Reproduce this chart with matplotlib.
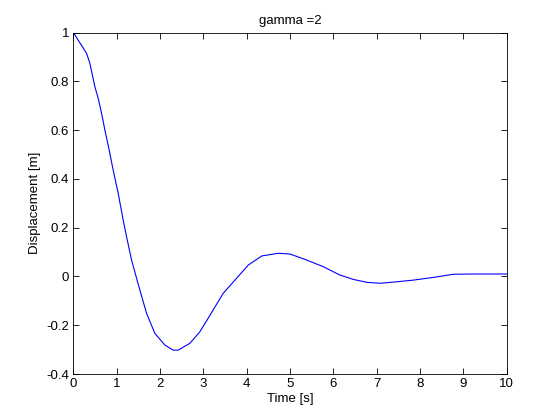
import matplotlib
matplotlib.use('Agg')
import matplotlib.pyplot as plt

# points
time = [0, 0.305, 0.381, 0.497, 0.573, 0.651, 0.727, 0.827, 0.919, 1.035, 1.15, 1.228,
        1.344, 1.46, 1.536, 1.69, 1.88, 2.11, 2.30, 2.42, 2.69, 2.92, 3.11, 3.46, 3.73,
        4.04, 4.35, 4.73, 5.0, 5.39, 5.77, 6.15, 6.46, 6.77, 7.08, 7.46, 7.85, 8.31,
        8.77, 9.23, 10.0]
displacement = [1.0, 0.915, 0.874, 0.778, 0.730, 0.669, 0.601, 0.518, 0.436, 0.341, 0.231,
                0.163, 0.067, -0.008, -0.056, -0.151, -0.233, -0.281, -0.302, -0.302,
                -0.274, -0.227, -0.172, -0.069, -0.015, 0.047, 0.084, 0.095, 0.092,
                0.067, 0.040, 0.006, -0.012, -0.024, -0.028, -0.022, -0.015, -0.004,
                0.009, 0.010, 0.010]

xticks = list(range(0, 11))
yticks = [-0.4, -0.2, 0, 0.2, 0.4, 0.6, 0.8, 1]
ytick_labels = ['-0.4', '-0.2', '0', '0.2', '0.4', '0.6', '0.8', '1']

plt.rcParams['font.family'] = ['Liberation Sans', 'DejaVu Sans']
plt.rcParams['font.size'] = 9.5

fig = plt.figure(figsize=(5.6, 4.2), dpi=100)
ax = fig.add_axes([0.131, 0.1095, 0.7735, 0.813])
ax.plot(time, displacement, color='#0000ff', lw=0.8)

ax.set_xlim(0, 10)
ax.set_ylim(-0.4, 1)
ax.set_xticks(xticks)
ax.set_xticklabels([str(t) for t in xticks])
ax.set_yticks(yticks)
ax.set_yticklabels(ytick_labels)
ax.tick_params(direction='in', top=True, right=True, length=4, width=0.6,
               labelsize=9.5, pad=3)
for s in ax.spines.values():
    s.set_linewidth(0.6)

ax.set_xlabel('Time [s]', labelpad=2)
ax.set_ylabel('Displacement [m]', labelpad=4)
ax.set_title('gamma =2', fontsize=9.5, pad=6)

fig.savefig('out.png', dpi=100)
